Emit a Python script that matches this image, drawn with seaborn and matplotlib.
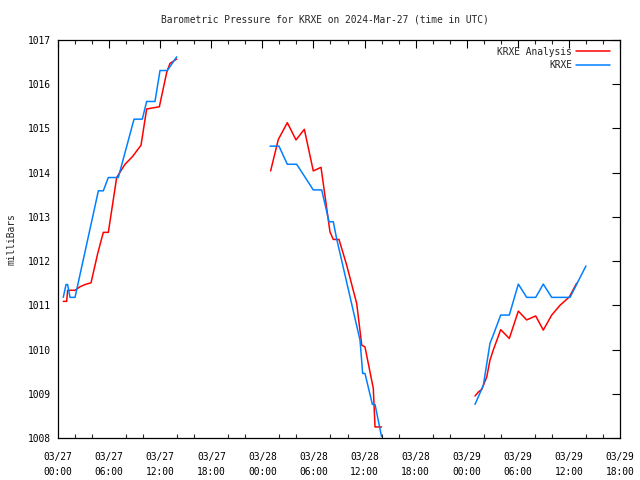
import matplotlib
matplotlib.use("Agg")
import matplotlib.pyplot as plt
from matplotlib.lines import Line2D
from matplotlib.ticker import MultipleLocator
import seaborn as sns
import pandas as pd

# ---- data (hours since 2024-03-27 00:00 UTC, pressure in mb) ----
analysis_seg1_t = [0.62, 1.02, 1.13, 2.0, 2.58, 3.17, 3.88, 4.66, 5.32, 5.91, 6.89, 7.87, 8.73, 9.75, 10.41, 11.9, 12.77, 13.15, 13.94]
analysis_seg1_p = [1011.09, 1011.09, 1011.34, 1011.34, 1011.42, 1011.47, 1011.51, 1012.17, 1012.65, 1012.65, 1013.89, 1014.19, 1014.36, 1014.62, 1015.44, 1015.49, 1016.27, 1016.47, 1016.57]
analysis_seg2_t = [24.97, 25.87, 26.93, 27.95, 28.93, 29.98, 30.89, 31.94, 32.33, 33.0, 33.9, 35.08, 35.67, 36.05, 37.03, 37.23, 38.0]
analysis_seg2_p = [1014.04, 1014.75, 1015.13, 1014.74, 1014.98, 1014.04, 1014.12, 1012.66, 1012.49, 1012.49, 1011.91, 1011.04, 1010.1, 1010.06, 1009.12, 1008.25, 1008.25]
analysis_seg3_t = [48.97, 49.37, 49.76, 50.35, 50.73, 51.12, 51.99, 53.0, 54.06, 55.04, 56.1, 56.99, 57.98, 58.95, 60.05, 60.91]
analysis_seg3_p = [1008.95, 1009.04, 1009.10, 1009.38, 1009.76, 1009.99, 1010.45, 1010.25, 1010.87, 1010.67, 1010.76, 1010.44, 1010.78, 1011.0, 1011.19, 1011.5]

obs_seg1_t = [0.62, 0.94, 1.13, 1.41, 2.0, 4.74, 5.32, 5.91, 7.08, 8.93, 9.9, 10.41, 11.39, 11.98, 12.84, 13.94]
obs_seg1_p = [1011.18, 1011.47, 1011.47, 1011.18, 1011.18, 1013.59, 1013.59, 1013.89, 1013.89, 1015.21, 1015.21, 1015.61, 1015.61, 1016.31, 1016.31, 1016.62]
obs_seg2_t = [24.9, 25.95, 26.93, 28.03, 29.98, 30.97, 31.83, 32.33, 32.72, 35.47, 35.78, 36.05, 36.92, 37.23, 38.0]
obs_seg2_p = [1014.6, 1014.6, 1014.19, 1014.19, 1013.61, 1013.61, 1012.89, 1012.89, 1012.51, 1010.21, 1009.46, 1009.46, 1008.76, 1008.76, 1008.03]
obs_seg3_t = [48.97, 49.95, 50.73, 51.12, 51.99, 53.0, 54.06, 55.04, 56.1, 56.99, 57.98, 60.13, 62.0]
obs_seg3_p = [1008.76, 1009.19, 1010.14, 1010.33, 1010.78, 1010.78, 1011.48, 1011.18, 1011.18, 1011.48, 1011.18, 1011.18, 1011.89]

series_names = ["KRXE Analysis", "KRXE"]
series_colors = ["#ff0000", "#0080ff"]

x_tick_hours = [0, 6, 12, 18, 24, 30, 36, 42, 48, 54, 60, 66]
x_tick_labels = ["03/27\n00:00", "03/27\n06:00", "03/27\n12:00", "03/27\n18:00",
                 "03/28\n00:00", "03/28\n06:00", "03/28\n12:00", "03/28\n18:00",
                 "03/29\n00:00", "03/29\n06:00", "03/29\n12:00", "03/29\n18:00"]
y_ticks = [1008, 1009, 1010, 1011, 1012, 1013, 1014, 1015, 1016, 1017]

title = "Barometric Pressure for KRXE on 2024-Mar-27 (time in UTC)"
ylabel = "milliBars"

# ---- build table ----
rows = []
segs = {
    series_names[0]: [(analysis_seg1_t, analysis_seg1_p), (analysis_seg2_t, analysis_seg2_p), (analysis_seg3_t, analysis_seg3_p)],
    series_names[1]: [(obs_seg1_t, obs_seg1_p), (obs_seg2_t, obs_seg2_p), (obs_seg3_t, obs_seg3_p)],
}
for name, seglist in segs.items():
    for i, (ts, ps) in enumerate(seglist):
        for t, p in zip(ts, ps):
            rows.append({"hours": t, "pressure": p, "series": name, "segment": f"{name}-{i}"})
df = pd.DataFrame(rows)

sns.set_style("white")
plt.rcParams["font.family"] = ["DejaVu Sans Mono"]

fig = plt.figure(figsize=(6.4, 4.8), dpi=100)
ax = fig.add_axes([58 / 640, 1 - 438 / 480, (620 - 58) / 640, (438 - 40) / 480])

palette = dict(zip(series_names, series_colors))
for name in [series_names[0], series_names[1]]:
    sub = df[df["series"] == name]
    sns.lineplot(data=sub, x="hours", y="pressure", units="segment", estimator=None,
                 sort=False, color=palette[name], linewidth=1.1, legend=False, ax=ax)

ax.set_xlim(0, 66)
ax.set_ylim(1008, 1017)
ax.set_xticks(x_tick_hours)
ax.set_xticklabels(x_tick_labels, fontsize=6.9, linespacing=1.7)
ax.xaxis.set_minor_locator(MultipleLocator(2))
ax.set_yticks(y_ticks)
ax.set_yticklabels([str(v) for v in y_ticks], fontsize=6.9)
ax.tick_params(axis="both", which="major", direction="in", length=6, width=0.8,
               top=True, right=True, colors="black")
ax.tick_params(axis="x", which="major", pad=10)
ax.tick_params(axis="y", which="major", pad=5)
ax.tick_params(axis="x", which="minor", direction="in", length=3, width=0.8, top=True, bottom=True)
ax.set_xlabel("")
ax.set_ylabel(ylabel, fontsize=6.9, labelpad=8)
for s in ax.spines.values():
    s.set_color("black")
    s.set_linewidth(0.9)

fig.text(325 / 640, 1 - 20 / 480, title, ha="center", va="center", fontsize=6.9)

handles = [Line2D([0], [0], color=c, lw=1.1) for c in series_colors]
ax.legend(handles, series_names, loc="upper right", frameon=False, markerfirst=False,
          fontsize=6.9, handlelength=3.6, handletextpad=0.4, labelspacing=0.35,
          borderaxespad=0.3, bbox_to_anchor=(0.995, 1.0))

fig.savefig("out.png", dpi=100)
